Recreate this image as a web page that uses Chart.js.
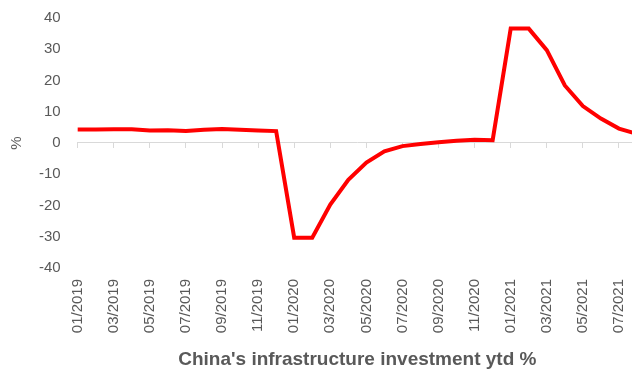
<!DOCTYPE html>
<html><head><meta charset="utf-8">
<script src="https://cdn.jsdelivr.net/npm/chart.js@4"></script>
<style>
html,body{margin:0;padding:0;overflow:hidden;background:#fff;width:632px;height:373px}
#wrap{width:640px;height:373px;position:relative}
</style></head>
<body><div id="wrap"><canvas id="c" width="640" height="373"></canvas></div>
<script>
const months = ['01/2019','02/2019','03/2019','04/2019','05/2019','06/2019','07/2019','08/2019','09/2019','10/2019','11/2019','12/2019',
  '01/2020','02/2020','03/2020','04/2020','05/2020','06/2020','07/2020','08/2020','09/2020','10/2020','11/2020','12/2020',
  '01/2021','02/2021','03/2021','04/2021','05/2021','06/2021','07/2021','08/2021'];
const infraYtd = [4.3,4.3,4.4,4.4,4.0,4.1,3.8,4.2,4.5,4.2,4.0,3.8,
  -30.3,-30.3,-19.7,-11.8,-6.3,-2.7,-1.0,-0.3,0.2,0.7,1.0,0.9,
  36.6,36.6,29.7,18.4,11.8,7.8,4.6,2.9];
const yTicks = [-40,-30,-20,-10,0,10,20,30,40];
const titleText = "China's infrastructure investment ytd %";
const yTitle = '%';

const grey = '#595959';
const fam = "'Liberation Sans', Arial, sans-serif";

new Chart(document.getElementById('c'), {
  type: 'line',
  data: {
    labels: months,
    datasets: [{
      data: infraYtd,
      borderColor: '#ff0000',
      borderWidth: 4,
      pointRadius: 0,
      tension: 0,
      fill: false,
      xAxisID: 'x',
      yAxisID: 'y'
    }]
  },
  options: {
    responsive: false,
    animation: false,
    devicePixelRatio: 1,
    layout: { padding: { left: 8, right: 3, top: 18, bottom: 0 } },
    plugins: { legend: { display: false }, tooltip: { enabled: false } },
    scales: {
      y: {
        min: yTicks[0], max: yTicks[yTicks.length - 1],
        afterBuildTicks: s => { s.ticks = yTicks.map(v => ({ value: v })); },
        grid: { display: false, drawTicks: false },
        border: { display: false },
        ticks: { color: grey, font: { family: fam, size: 15 }, padding: 17 },
        title: { display: true, text: yTitle, color: grey, font: { family: fam, size: 15 }, padding: { top: 0, bottom: 0 } },
        afterFit: s => { s.width = s.width - 4; s.paddingTop = 0; s.paddingBottom = 0; }
      },
      x: {
        position: { y: 0 },
        ticks: { display: false, autoSkip: false },
        grid: {
          drawOnChartArea: false, drawTicks: true, tickLength: 5,
          color: ctx => (ctx.index % 2 === 0 ? '#d9d9d9' : 'rgba(0,0,0,0)'),
          lineWidth: 1
        },
        border: { display: true, color: '#d9d9d9', width: 1 }
      },
      x2: {
        type: 'category',
        position: 'bottom',
        grid: { display: false, drawTicks: false },
        border: { display: false },
        ticks: {
          autoSkip: false, minRotation: 90, maxRotation: 90, padding: 11,
          color: grey, font: { family: fam, size: 15 },
          callback: (v, i) => (i % 2 === 0 ? months[i] : '')
        },
        title: { display: true, text: titleText, color: grey, font: { family: fam, size: 19, weight: 'bold' }, padding: { top: 4, bottom: 2 } },
        afterFit: s => { s.paddingRight = 0; s.paddingLeft = 0; }
      }
    }
  }
});
</script>
</body></html>
